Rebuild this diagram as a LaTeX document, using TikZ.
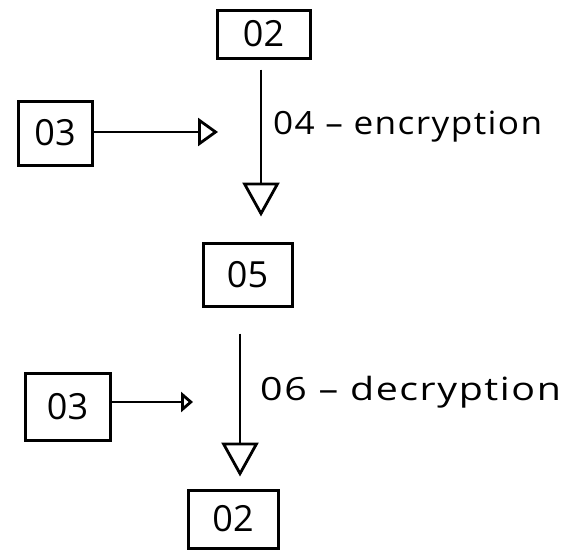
\documentclass[tikz,border=0pt]{standalone}
\usepackage{fontspec}
\setmainfont{Open Sans}
\usetikzlibrary{arrows.meta}
\newcommand{\widetext}[2]{\scalebox{#1}[1]{\addfontfeatures{LetterSpace=4}#2}}
\begin{document}
\begin{tikzpicture}[x=1pt,y=-1pt,
  box/.style={draw,line width=3pt,inner sep=0pt,font=\fontsize{36}{38}\selectfont},
  flow/.style={line width=2.6pt,-{Triangle[open,length=34pt,width=37pt,line width=2.8pt]}},
  feed/.style={line width=2.6pt,-{Triangle[open,length=#1,width=#1+8pt,line width=2.8pt]}},
  lbl/.style={anchor=west,inner sep=0pt,font=\fontsize{32}{34}\selectfont}]
  \useasboundingbox (0,0) rectangle (586,552);
  % boxes
  \node[box,minimum width=93pt,minimum height=48pt] (p1) at (263.5,34) {02};
  \node[box,minimum width=74pt,minimum height=64pt] (k1) at (55,133) {03};
  \node[box,minimum width=89pt,minimum height=63pt] (c) at (247.5,274.5) {05};
  \node[box,minimum width=85pt,minimum height=67pt] (k2) at (67.5,406.5) {03};
  \node[box,minimum width=90pt,minimum height=58pt] (p2) at (233,519) {02};
  % free ends of the key arrows
  \coordinate (e1) at (218,132);
  \coordinate (e2) at (193,402);
  % connectors
  \draw[flow,shorten <=10pt,shorten >=25pt] (p1.south -| 261,0) -- (c.north -| 261,0);
  \draw[flow,shorten <=26pt,shorten >=12pt] (c.south -| 240,0) -- (p2.north -| 240,0);
  \draw[feed=20pt] (k1.east |- e1) -- (e1);
  \draw[feed=12pt] (k2.east |- e2) -- (e2);
  % labels
  \node[lbl] (t1) at (273,127) {\widetext{1.1}{04 – encryption}};
  \node[lbl] (t2) at (260,392) {\widetext{1.23}{06 – decryption}};
\end{tikzpicture}
\end{document}
